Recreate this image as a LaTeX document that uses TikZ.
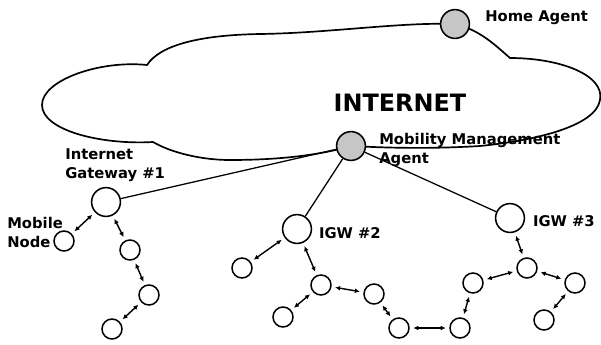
\documentclass[tikz,border=0pt]{standalone}
\usepackage{fontspec}
\setmainfont{DejaVu Sans}
\usetikzlibrary{positioning,arrows.meta}

\begin{document}
\begin{tikzpicture}[x=0.025cm,y=-0.025cm,
    host/.style={circle,draw,line width=1.1pt,fill=white,inner sep=0pt,minimum size=0.5cm},
    gateway/.style={host,minimum size=0.72cm},
    agent/.style={gateway,fill=gray!45},
    link/.style={line width=0.9pt},
    hop/.style={line width=1pt,{Latex[length=3.6pt,width=3.4pt]}-{Latex[length=3.6pt,width=3.4pt]},shorten <=2.5pt,shorten >=2.5pt},
    lbl/.style={font=\fontsize{10.5}{13.5}\selectfont\bfseries,align=left,inner sep=0pt}]

    \useasboundingbox (0,0) rectangle (601,344);

    \draw[line width=1.2pt] (147,65) .. controls (160,45) and (200,35) .. (260,34)
        .. controls (330,33) and (400,22) .. (455,24)
        .. controls (480,30) and (495,45) .. (510,58)
        .. controls (560,58) and (605,75) .. (600,100)
        .. controls (596,125) and (540,140) .. (480,146)
        .. controls (430,149) and (390,148) .. (351,146)
        .. controls (320,155) and (280,160) .. (230,160)
        .. controls (200,160) and (170,152) .. (153,142)
        .. controls (100,145) and (42,130) .. (42,105)
        .. controls (42,80) and (100,60) .. (147,65) -- cycle;

    \node[font=\fontsize{17}{20}\selectfont\bfseries] (inet) at (400,103) {INTERNET};

    \node[agent] (ha) at (455,24) {};
    \node[agent] (mma) at (351,146) {};
    \node[gateway] (igwA) at (106,202) {};
    \node[gateway] (igwB) at (297,229) {};
    \node[gateway] (igwC) at (510,218) {};

    \node[host] (mn) at (64,241) {};
    \node[host] (a1) at (130,250) {};
    \node[host] (a2) at (149,295) {};
    \node[host] (a3) at (112,329) {};
    \node[host] (b1) at (242,268) {};
    \node[host] (b2) at (321,285) {};
    \node[host] (b3) at (283,317) {};
    \node[host] (b4) at (374,294) {};
    \node[host] (b5) at (399,328) {};
    \node[host] (c1) at (460,328) {};
    \node[host] (c2) at (473,283) {};
    \node[host] (c3) at (527,268) {};
    \node[host] (c4) at (575,283) {};
    \node[host] (c5) at (544,320) {};

    \node[lbl,anchor=west] (halbl) at (485,18) {Home Agent};
    \node[lbl,anchor=west] (mmalbl) at (379,150) {Mobility Management\\Agent};
    \node[lbl,anchor=west] (igwAlbl) at (65,165) {Internet\\Gateway \#1};
    \node[lbl,anchor=west] (mnlbl) at (7,232) {Mobile\\Node};
    \node[lbl,right=4.7pt of igwB,yshift=-3pt] (igwBlbl) {IGW \#2};
    \node[lbl,right=5.4pt of igwC,yshift=-2pt] (igwClbl) {IGW \#3};

    \draw[link] (mma) -- (igwA);
    \draw[link] (mma) -- (igwB);
    \draw[link] (mma) -- (igwC);

    \draw[hop] (igwA) -- (mn);
    \draw[hop] (igwA) -- (a1);
    \draw[hop] (a1) -- (a2);
    \draw[hop] (a2) -- (a3);
    \draw[hop] (igwB) -- (b1);
    \draw[hop] (igwB) -- (b2);
    \draw[hop] (b2) -- (b3);
    \draw[hop] (b2) -- (b4);
    \draw[hop] (b4) -- (b5);
    \draw[hop] (b5) -- (c1);
    \draw[hop] (c1) -- (c2);
    \draw[hop] (c2) -- (c3);
    \draw[hop] (igwC) -- (c3);
    \draw[hop] (c3) -- (c4);
    \draw[hop] (c4) -- (c5);
\end{tikzpicture}
\end{document}
